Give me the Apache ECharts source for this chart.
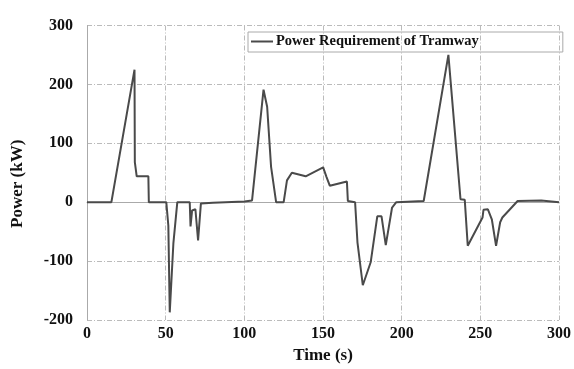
<!DOCTYPE html>
<html>
<head>
<meta charset="utf-8">
<script src="https://cdn.jsdelivr.net/npm/echarts@6/dist/echarts.min.js"></script>
<style>html,body{margin:0;padding:0;background:#fff;}#c{width:574px;height:369px;}</style>
</head>
<body>
<div id="c"></div>
<script>
var seriesName = 'Power Requirement of Tramway';
var timeS = [0, 15.5, 30.2, 30.4, 31.6, 39, 39.3, 50.4, 51.7, 52.6, 54.9, 55.5, 57.4, 65.3, 65.8, 66.8, 68.9, 70.6, 72.4, 80, 100,
  104.9, 112.2, 114.5, 117, 120.2, 125, 127.1, 128, 130.2, 139, 150.1, 152.2, 154.3, 165.2, 165.8, 170.4, 171.9, 172.8, 175.3, 180.3,
  184.5, 187.2, 189.9, 193.9, 196.6, 214, 229.7, 237.4, 238.5, 240.1, 242, 251.4, 252, 254.8, 257.3, 260, 262.6, 264, 273.7, 288.7, 300];
var powerKW = [0, 0, 225, 68, 44, 44, 0, 0, -40, -187, -70, -68, 0, 0, -41, -14, -12, -65, -2, -1, 1,
  3, 191, 162, 60, 0, 0, 37, 40, 50, 44, 59, 43, 28, 35, 2, 0, -68, -70, -141, -102,
  -24, -24, -73, -9, 0, 2, 250, 5, 5, 4, -74, -26, -13, -12, -29, -74, -34, -26, 2, 3, 0];
var xTicks = [0, 50, 100, 150, 200, 250, 300];
var yTicks = [-200, -100, 0, 100, 200, 300];

var data = timeS.map(function (t, i) { return [t, powerKW[i]]; });
var font = 'Liberation Serif';
var chart = echarts.init(document.getElementById('c'));
chart.setOption({
  animation: false,
  backgroundColor: '#fff',
  grid: { left: 87, right: 9.5, top: 25.5, bottom: 42.5 },
  legend: {
    left: 248, top: 32,
    data: [{ name: seriesName, icon: 'rect' }],
    itemWidth: 22, itemHeight: 2, itemGap: 0,
    padding: [2, 84, 3, 3],
    borderColor: '#aaa', borderWidth: 1,
    textStyle: { fontFamily: font, fontWeight: 'bold', fontSize: 14.5, color: '#111', padding: [0, 0, 0, -2] }
  },
  xAxis: {
    type: 'value', min: xTicks[0], max: xTicks[xTicks.length - 1], interval: 50,
    name: 'Time (s)', nameLocation: 'middle', nameGap: 27,
    nameTextStyle: { fontFamily: font, fontWeight: 'bold', fontSize: 17, color: '#111' },
    axisLine: { show: true, lineStyle: { color: '#aaa', width: 1 } },
    axisTick: { show: false },
    axisLabel: { margin: 6, fontFamily: font, fontWeight: 'bold', fontSize: 16, color: '#111' },
    splitLine: { show: true, lineStyle: { color: '#bbb', type: [5, 2, 1, 2], width: 1 } }
  },
  yAxis: {
    type: 'value', min: yTicks[0], max: yTicks[yTicks.length - 1], interval: 100,
    name: 'Power (kW)', nameLocation: 'middle', nameGap: 61,
    nameTextStyle: { fontFamily: font, fontWeight: 'bold', fontSize: 17, color: '#111', padding: [0, 22, 0, 0] },
    axisLine: { show: true, onZero: false, lineStyle: { color: '#aaa', width: 1 } },
    axisTick: { show: false },
    axisLabel: { margin: 14, fontFamily: font, fontWeight: 'bold', fontSize: 16, color: '#111' },
    splitLine: { show: true, lineStyle: { color: '#bbb', type: [5, 2, 1, 2], width: 1 } }
  },
  series: [{
    name: seriesName, type: 'line', data: data, showSymbol: false, symbol: 'none',
    lineStyle: { color: '#4a4a4a', width: 2 }, itemStyle: { color: '#4a4a4a' }
  }]
});
</script>
</body>
</html>
